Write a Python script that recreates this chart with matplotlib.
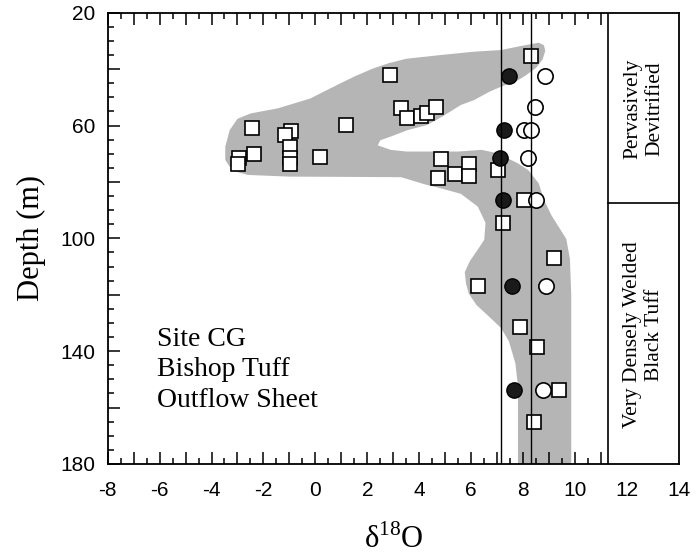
import matplotlib
matplotlib.use("Agg")
import matplotlib.pyplot as plt
from matplotlib.patches import Polygon
from matplotlib.ticker import FixedLocator, FuncFormatter

# --- data -------------------------------------------------------------
square_d18o = [8.30, 2.86, 1.18, 3.29, 3.54, 4.06, 4.31, 4.64, -2.44, -0.95,
               -1.18, -0.96, -2.37, -2.95, -2.97, -0.98, -0.98, 0.16, 4.82, 4.72,
               5.38, 5.93, 5.93, 7.02, 8.05, 7.22, 9.17, 6.25, 7.89, 8.53,
               9.36, 8.40]
square_depth = [35.5, 42.2, 59.7, 53.7, 57.2, 56.7, 55.6, 53.3, 61.0, 61.8,
                63.5, 67.5, 69.9, 71.6, 73.6, 71.6, 73.7, 71.0, 72.0, 78.7,
                77.0, 73.5, 77.8, 75.8, 86.4, 94.4, 107.1, 116.9, 131.6, 138.4,
                153.6, 165.0]

filled_d18o = [7.47, 7.28, 7.09, 7.22, 7.58, 7.64]
filled_depth = [42.4, 61.7, 71.5, 86.4, 116.9, 153.8]

open_d18o = [8.85, 8.47, 8.03, 8.32, 8.18, 8.50, 8.86, 8.76]
open_depth = [42.4, 53.3, 61.7, 61.7, 71.5, 86.4, 116.9, 153.8]

# outline of the shaded range of values
envelope_d18o = [8.6, 7.9, 7.15, 6.1, 4.8, 3.5, 2.85, 2.2, 1.5, 0.9,
                 -0.2, -1.45, -2.5, -3.0, -3.3, -3.47, -3.47, -3.2, -2.6, -1.0,
                 1.4, 3.3, 4.2, 4.85, 5.6, 6.25, 6.55, 6.5, 6.25, 5.95,
                 5.75, 5.8, 5.9, 6.2, 6.75, 7.15, 7.45, 7.7, 7.8, 7.8,
                 9.85, 9.85, 9.8, 9.66, 9.1, 8.8, 8.6, 8.2, 7.8, 7.4,
                 7.0, 6.4, 5.5, 4.6, 3.5, 2.9, 2.4, 2.5, 2.9, 3.55,
                 4.3, 4.85, 5.2, 5.6, 6.1, 6.7, 7.2, 7.7, 8.1, 8.5,
                 8.75, 8.85, 8.8]
envelope_depth = [30.6, 31.8, 33.2, 33.8, 35.0, 36.3, 37.8, 39.8, 42.6, 45.3,
                  50.4, 53.9, 55.7, 57.6, 61.6, 67.5, 72.2, 76.0, 77.5, 78.1,
                  78.2, 78.3, 80.8, 82.3, 84.2, 88.7, 94.5, 100.5, 104.0, 108.0,
                  112.0, 116.0, 119.5, 123.6, 128.3, 131.8, 136.5, 144.3, 152.5, 180.0,
                  180.0, 120.0, 107.3, 100.2, 92.0, 86.4, 80.5, 75.8, 73.4, 71.6,
                  69.8, 68.6, 69.2, 69.2, 69.2, 68.6, 67.0, 65.2, 63.9, 61.6,
                  59.8, 57.0, 55.0, 52.7, 51.0, 48.0, 46.0, 44.5, 42.2, 39.5,
                  36.5, 33.5, 31.5]

ref_lines = [7.15, 8.30]

zone_boundary_x = 11.27
zone_boundary_depth = 87.3
zone_labels = ["Pervasively\nDevitrified", "Very Densely Welded\nBlack Tuff"]
site_label = "Site CG\nBishop Tuff\nOutflow Sheet"

x_labels = [-8, -6, -4, -2, 0, 2, 4, 6, 8, 10, 12, 14]
y_labels = [20, 60, 100, 140, 180]

# --- figure -----------------------------------------------------------
serif = ["Liberation Serif", "DejaVu Serif"]
sans = ["Liberation Sans", "DejaVu Sans"]

fig = plt.figure(figsize=(6.97, 5.56), dpi=100)
ax = fig.add_axes([0.1544, 0.1655, 0.9742 - 0.1544, 0.977 - 0.1655])

ax.set_xlim(-8, 14)
ax.set_ylim(180, 20)

env = Polygon(list(zip(envelope_d18o, envelope_depth)), closed=True,
              facecolor="#b5b5b5", edgecolor="none", zorder=1)
ax.add_patch(env)

ax.plot(square_d18o, square_depth, ls="none", marker="s", ms=9.8,
        mfc="white", mec="black", mew=1.2, zorder=3)
ax.plot(open_d18o, open_depth, ls="none", marker="o", ms=11,
        mfc="white", mec="black", mew=1.2, zorder=3)
ax.plot(filled_d18o, filled_depth, ls="none", marker="o", ms=11,
        mfc="#1a1a1a", mec="black", mew=1.0, zorder=3)

for xv in ref_lines:
    ax.axvline(xv, color="black", lw=1.0, zorder=4)

# zone panel on the right
ax.axvline(zone_boundary_x, color="black", lw=1.2, zorder=4)
ax.plot([zone_boundary_x, 14], [zone_boundary_depth, zone_boundary_depth],
        color="black", lw=1.2, zorder=4, clip_on=False)
panel_x = (zone_boundary_x + 14) / 2
ax.text(panel_x, (20 + zone_boundary_depth) / 2 + 0.5, zone_labels[0],
        rotation=90, ha="center", va="center", fontsize=15.5,
        family=serif, linespacing=1.2)
ax.text(panel_x, (zone_boundary_depth + 180) / 2 + 0.5, zone_labels[1],
        rotation=90, ha="center", va="center", fontsize=15.5,
        family=serif, linespacing=1.2)

ax.text(-6.1, 131.3, site_label, ha="left", va="top", fontsize=20,
        family=serif, linespacing=1.3)

# --- axes styling -----------------------------------------------------
for sp in ax.spines.values():
    sp.set_linewidth(1.3)

x_major = list(range(-8, 12)) + [12, 14]
ax.xaxis.set_major_locator(FixedLocator(x_major))
ax.xaxis.set_major_formatter(FuncFormatter(
    lambda v, p: f"{int(round(v))}" if int(round(v)) in x_labels else ""))
ax.xaxis.set_minor_locator(FixedLocator([v + 0.5 for v in range(-8, 11)]))

ax.yaxis.set_major_locator(FixedLocator(list(range(20, 181, 20))))
ax.yaxis.set_major_formatter(FuncFormatter(
    lambda v, p: f"{int(round(v))}" if int(round(v)) in y_labels else ""))
ax.yaxis.set_minor_locator(FixedLocator(list(range(25, 180, 5))))

ax.tick_params(axis="both", which="both", direction="in", width=1.1,
               labelsize=15)
ax.tick_params(axis="x", which="both", top=True, bottom=True)
ax.tick_params(axis="y", which="both", left=True, right=False)
ax.tick_params(which="major", length=8.5)
ax.tick_params(which="minor", length=4.3)
ax.tick_params(axis="x", which="major", pad=12)
ax.tick_params(axis="y", which="major", pad=9)

for lab in ax.get_xticklabels() + ax.get_yticklabels():
    lab.set_fontfamily(sans)

# no tick marks inside the zone panel
for tick in ax.xaxis.get_major_ticks():
    if tick.get_loc() > 11.5:
        tick.tick1line.set_visible(False)
        tick.tick2line.set_visible(False)

ax.set_ylabel("Depth (m)", fontsize=22, family=serif, labelpad=10)
ax.set_xlabel(r"δ$^{\mathregular{18}}$O", fontsize=22, family=serif,
              labelpad=18)

fig.savefig("out.png", dpi=100)
